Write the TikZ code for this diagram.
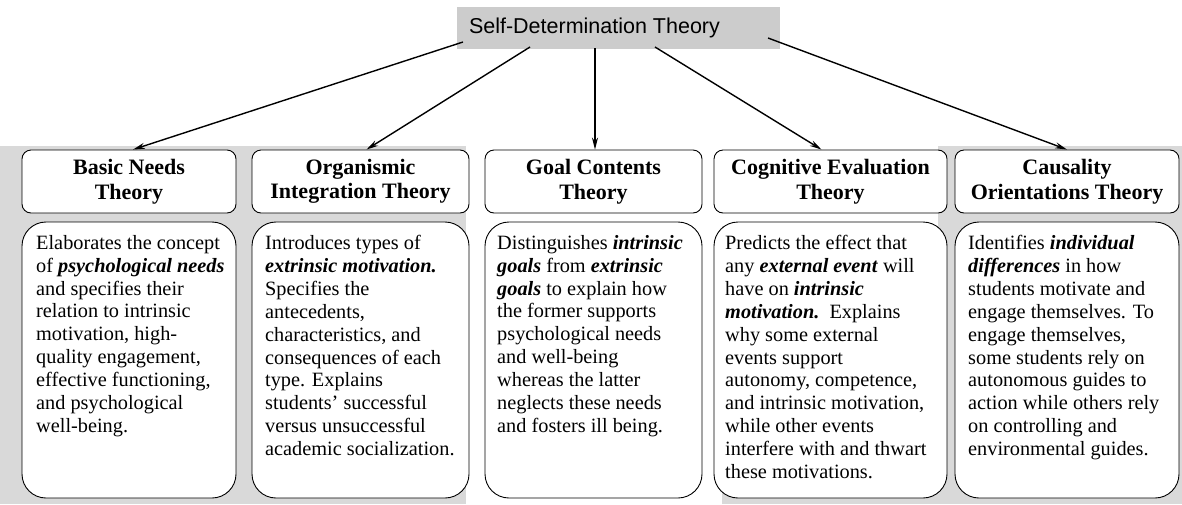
\documentclass[tikz,border=0pt]{standalone}
\usepackage{fontspec}
\setmainfont{Liberation Serif}
\newfontfamily\titlefont{Liberation Sans}
\usetikzlibrary{arrows.meta}
\newcommand\bi[1]{\textbf{\textit{#1}}}
\begin{document}
\begin{tikzpicture}[x=1pt,y=-1pt,
  panel/.style={fill=gray!30,draw=none},
  head/.style={draw=black,line width=0.9pt,rounded corners=9pt,fill=white,
    font=\fontsize{22}{24.5}\selectfont\bfseries,align=center,inner sep=0,minimum height=63pt},
  bodybox/.style={draw=black,line width=0.9pt,rounded corners=24pt,fill=white,minimum height=276pt,inner sep=0},
  bodytext/.style={font=\fontsize{20.3}{22.9}\selectfont,align=left,inner sep=0,anchor=north west},
  arr/.style={-{Stealth[length=12pt,width=6pt]},line width=1.4pt}]
\useasboundingbox (0,0) rectangle (1182,504);
\fill[white] (0,0) rectangle (1182,504);
% shadow panels
\fill[panel] (0,146) rectangle (246,504);
\fill[panel] (238,146) rectangle (466,504);
\fill[panel] (722,226) rectangle (955,504);
\fill[panel] (938,146) rectangle (1182,504);
% title
\node (title) [fill=gray!40, minimum width=323pt, minimum height=42pt, inner sep=0,
  font=\titlefont\fontsize{21.5}{24}\selectfont] at (618.5,28)
  {\makebox[323pt][l]{\hspace{12pt}Self-Determination Theory}};
% headers
\node (h1) [head, minimum width=214pt] at (129,181.5) {Basic Needs\\Theory};
\node (h2) [head, minimum width=217pt] at (360.5,181.5) {Organismic\\Integration Theory};
\node (h3) [head, minimum width=217pt] at (593.5,181.5) {Goal Contents\\Theory};
\node (h4) [head, minimum width=233pt] at (830.5,181.5) {Cognitive Evaluation\\Theory};
\node (h5) [head, minimum width=224pt] at (1067,181.5) {Causality\\Orientations Theory};
% bodies
\node (b1) [bodybox, minimum width=214pt] at (129,360) {};
\node (b2) [bodybox, minimum width=217pt] at (360.5,360) {};
\node (b3) [bodybox, minimum width=217pt] at (593.5,360) {};
\node (b4) [bodybox, minimum width=233pt] at (830.5,360) {};
\node (b5) [bodybox, minimum width=224pt] at (1067,360) {};
\node (t1) [bodytext] at (36,235) {Elaborates the concept\\of \bi{psychological needs}\\and specifies their\\relation to intrinsic\\motivation, high-\\quality engagement,\\effective functioning,\\and psychological\\well-being.};
\node (t2) [bodytext] at (265,235) {Introduces types of\\\bi{extrinsic motivation.}\\Specifies the\\antecedents,\\characteristics, and\\consequences of each\\type. Explains\\students' successful\\versus unsuccessful\\academic socialization.};
\node (t3) [bodytext] at (497,235) {Distinguishes \bi{intrinsic}\\\bi{goals} from \bi{extrinsic}\\\bi{goals} to explain how\\the former supports\\psychological needs\\and well-being\\whereas the latter\\neglects these needs\\and fosters ill being.};
\node (t4) [bodytext] at (725,235) {Predicts the effect that\\any \bi{external event} will\\have on \bi{intrinsic}\\\bi{motivation.}\ \ Explains\\why some external\\events support\\autonomy, competence,\\and intrinsic motivation,\\while other events\\interfere with and thwart\\these motivations.};
\node (t5) [bodytext] at (968,235) {Identifies \bi{individual}\\\bi{differences} in how\\students motivate and\\engage themselves. To\\engage themselves,\\some students rely on\\autonomous guides to\\action while others rely\\on controlling and\\environmental guides.};
% arrows
\coordinate (s1) at (463,42);
\coordinate (s2) at (530,47);
\coordinate (s3) at (595,48);
\coordinate (s4) at (655,47);
\coordinate (s5) at (768,38);
\draw[arr] (s1) -- ([xshift=4pt]h1.north);
\draw[arr] (s2) -- ([xshift=6pt]h2.north);
\draw[arr] (s3) -- ([xshift=1.5pt]h3.north);
\draw[arr] (s4) -- ([xshift=-9pt]h4.north);
\draw[arr] (s5) -- (h5.north);
\end{tikzpicture}
\end{document}
